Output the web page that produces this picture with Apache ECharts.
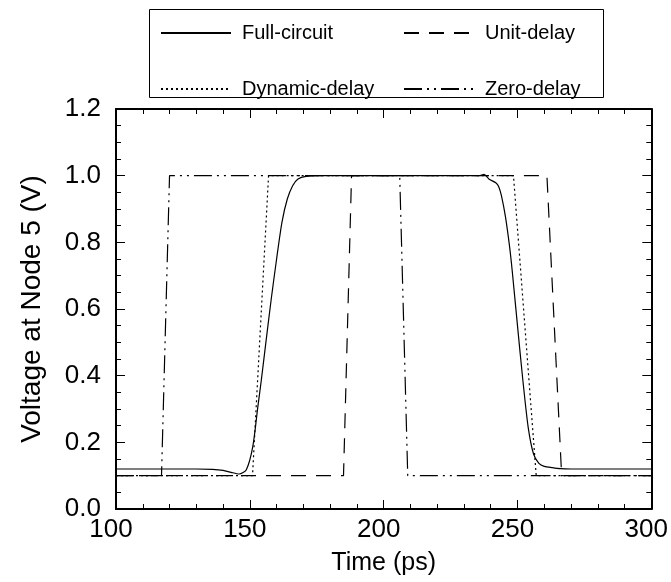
<!DOCTYPE html>
<html>
<head>
<meta charset="utf-8">
<script src="https://cdn.jsdelivr.net/npm/echarts@6/dist/echarts.min.js"></script>
<style>
html,body{margin:0;padding:0;background:#fff;}
#c{width:671px;height:582px;}
</style>
</head>
<body>
<div id="c"></div>
<script>
// ---- data ----
var fullT = [100,130,136,140,143,146,148.7,151.1,153,154.3,156,158,160,162,164,166,168,171,176,200,230,235.6,237.5,239.3,242,243,244,245.5,247,248,250,252,254,256,258,260,263,266,270,300];
var fullV = [0.12,0.12,0.119,0.116,0.11,0.105,0.118,0.187,0.307,0.387,0.5,0.63,0.75,0.86,0.93,0.97,0.99,0.998,1.0,1.0,1.0,1.0,1.004,0.99,0.978,0.967,0.94,0.877,0.79,0.717,0.55,0.387,0.245,0.165,0.137,0.128,0.124,0.121,0.12,0.12];

var unitT = [100,185,188,261,266.5,300];
var unitV = [0.1,0.1,1.0,1.0,0.1,0.1];

var dynT = [100,151,157,248.5,257,300];
var dynV = [0.1,0.1,1.0,1.0,0.1,0.1];

var zeroT = [100,117,120,206,209,300];
var zeroV = [0.1,0.1,1.0,1.0,0.1,0.1];

var seriesNames = ['Full-circuit','Unit-delay','Dynamic-delay','Zero-delay'];
var xName = 'Time (ps)';
var yName = 'Voltage at Node 5 (V)';

function pairs(t, v){ var o=[]; for(var i=0;i<t.length;i++){ o.push([t[i], v[i]]); } return o; }

var FONT = 'Liberation Sans, Arial, sans-serif';
var chart = echarts.init(document.getElementById('c'));

var grid = {left:116, top:109, width:537, height:400};

function axisCommon(extra){
  var a = {
    axisLine:{show:true, onZero:false, lineStyle:{color:'#000', width:2}},
    axisTick:{show:true, inside:true, length:9, lineStyle:{color:'#000', width:1}},
    minorTick:{show:true, splitNumber:5, length:5, lineStyle:{color:'#000', width:1}},
    splitLine:{show:false},
    minorSplitLine:{show:false}
  };
  for (var k in extra) a[k] = extra[k];
  return a;
}

var legendText = {fontFamily:FONT, fontSize:20, color:'#000', padding:[0,0,0,6]};

var option = {
  backgroundColor:'#fff',
  animation:false,
  grid: grid,
  xAxis: [
    axisCommon({type:'value', min:100, max:300, interval:50, position:'bottom',
      name:xName, nameLocation:'middle', nameGap:42,
      nameTextStyle:{fontFamily:FONT, fontSize:25, color:'#000'},
      axisLabel:{fontFamily:FONT, fontSize:26, color:'#000', margin:8, padding:[0,10,0,0]}}),
    axisCommon({type:'value', min:100, max:300, interval:50, position:'top',
      axisLabel:{show:false}})
  ],
  yAxis: [
    axisCommon({type:'value', min:0, max:1.2, interval:0.2, position:'left',
      name:yName, nameLocation:'middle', nameGap:70,
      nameTextStyle:{fontFamily:FONT, fontSize:28, color:'#000'},
      minorTick:{show:true, splitNumber:4, length:5, lineStyle:{color:'#000', width:1}},
      axisLabel:{fontFamily:FONT, fontSize:26, color:'#000', margin:15,
        formatter:function(v){return v.toFixed(1);}}}),
    axisCommon({type:'value', min:0, max:1.2, interval:0.2, position:'right',
      minorTick:{show:true, splitNumber:4, length:5, lineStyle:{color:'#000', width:1}},
      axisLabel:{show:false}})
  ],
  legend: [
    {orient:'vertical', left:160, top:23, itemWidth:70, itemHeight:14, itemGap:36,
      padding:0, itemStyle:{opacity:0},
      data:[seriesNames[0], seriesNames[2]], textStyle:legendText},
    {orient:'vertical', left:403, top:23, itemWidth:70, itemHeight:14, itemGap:36,
      padding:0, itemStyle:{opacity:0},
      data:[seriesNames[1], seriesNames[3]], textStyle:legendText}
  ],
  graphic:[
    {type:'rect', left:147, top:7, shape:{width:454, height:88},
      style:{fill:null, stroke:'#000', lineWidth:1}, z:100, silent:true}
  ],
  series: [
    {name:seriesNames[0], type:'line', data:pairs(fullT, fullV), smooth:0.25, showSymbol:false, symbol:'none',
      lineStyle:{color:'#000', width:1.2, type:'solid'}, itemStyle:{color:'#000'}},
    {name:seriesNames[1], type:'line', data:pairs(unitT, unitV), showSymbol:false, symbol:'none',
      lineStyle:{color:'#000', width:1.2, type:[15,10]}, itemStyle:{color:'#000'}},
    {name:seriesNames[2], type:'line', data:pairs(dynT, dynV), showSymbol:false, symbol:'none',
      lineStyle:{color:'#000', width:1.2, type:[2,3]}, itemStyle:{color:'#000'}},
    {name:seriesNames[3], type:'line', data:pairs(zeroT, zeroV), showSymbol:false, symbol:'none',
      lineStyle:{color:'#000', width:1.2, type:[18,5,2,5,2,5]}, itemStyle:{color:'#000'}}
  ]
};
chart.setOption(option);
</script>
</body>
</html>
